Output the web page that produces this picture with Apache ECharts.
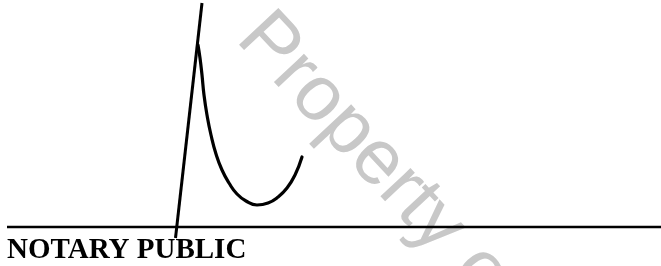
<!DOCTYPE html>
<html>
<head>
<meta charset="utf-8">
<script src="https://cdn.jsdelivr.net/npm/echarts@6/dist/echarts.min.js"></script>
<style>
  html, body { margin: 0; padding: 0; background: #fff; }
  #chart { width: 661px; height: 266px; }
</style>
</head>
<body>
<div id="chart"></div>
<script>
// signature: straight upstroke
const upX = [175.5, 202];
const upY = [238, 3];
// signature: the loop coming down from the peak
const loopX = [198, 200, 202, 204, 207, 211, 216, 222, 229, 237, 246, 257, 268, 278, 287, 295, 302];
const loopY = [45, 58, 75, 95, 115, 135, 154, 170, 183, 194, 201, 205, 203, 197, 188, 175, 157];
// signature rule
const ruleX = [7, 661];
const ruleY = [227, 227];

const label = 'NOTARY PUBLIC';
const watermark = 'Property of';

const pairs = (xs, ys) => xs.map((x, i) => [x, ys[i]]);

const chart = echarts.init(document.getElementById('chart'));
const option = {
  animation: false,
  backgroundColor: '#fff',
  grid: { left: 0, right: 0, top: 0, bottom: 0 },
  xAxis: { type: 'value', min: 0, max: 661, show: false },
  yAxis: { type: 'value', min: 0, max: 266, inverse: true, show: false },
  graphic: [
    {
      type: 'text',
      x: 222, y: 52,
      rotation: -47 * Math.PI / 180,
      z: 0,
      style: {
        text: watermark,
        fontFamily: 'Liberation Sans',
        fontSize: 78,
        fill: '#c8c8c8',
        align: 'left',
        verticalAlign: 'bottom'
      }
    },
    {
      type: 'text',
      left: 7, top: 236,
      z: 10,
      style: {
        text: label,
        fontFamily: 'Liberation Serif',
        fontWeight: 'bold',
        fontSize: 29,
        fill: '#000'
      }
    }
  ],
  series: [
    {
      type: 'line',
      data: pairs(ruleX, ruleY),
      showSymbol: false,
      lineStyle: { color: '#000', width: 2.5 },
      z: 5
    },
    {
      type: 'line',
      data: pairs(upX, upY),
      showSymbol: false,
      lineStyle: { color: '#000', width: 3 },
      z: 6
    },
    {
      type: 'line',
      data: pairs(loopX, loopY),
      smooth: 0.5,
      showSymbol: false,
      lineStyle: { color: '#000', width: 3.2, cap: 'round' },
      z: 6
    }
  ]
};
chart.setOption(option);
</script>
</body>
</html>
